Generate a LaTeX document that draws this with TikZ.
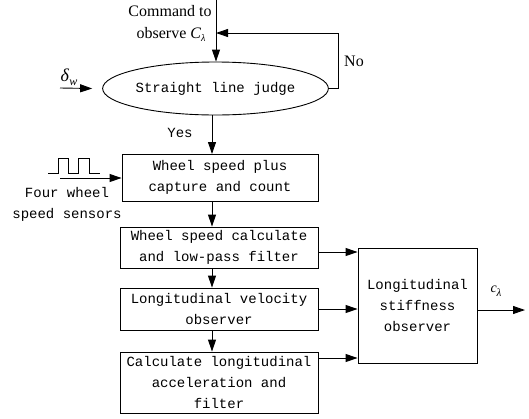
\documentclass[tikz,border=0pt]{standalone}
\usepackage{fontspec}
\setmainfont{Liberation Serif}
\newfontfamily\monof{Liberation Mono}
\usetikzlibrary{arrows.meta,shapes.geometric,calc}
\begin{document}
\begin{tikzpicture}[x=1pt,y=-1pt,
  line width=0.9pt,
  arr/.style={-{Triangle[length=12pt,width=8pt]}},
  boxs/.style={draw,rectangle,inner sep=0pt,align=center,font=\monof\fontsize{14}{21}\selectfont},
  mono/.style={font=\monof\fontsize{14}{21}\selectfont,inner sep=0pt,align=center},
  serif/.style={font=\fontsize{16}{20}\selectfont,inner sep=0pt}]
\useasboundingbox (0,0) rectangle (529,418);
\node[draw,ellipse,inner sep=0pt,minimum width=175pt,minimum height=53pt,mono] (ell) at (215.5,88.5) {Straight line judge};
\node[boxs,minimum width=196pt,minimum height=47pt] (b1) at (220,177.5) {Wheel speed plus\\capture and count};
\node[boxs,minimum width=198pt,minimum height=41pt] (b2) at (219,247.5) {Wheel speed calculate\\and low-pass filter};
\node[boxs,minimum width=198pt,minimum height=42pt] (b3) at (219,309) {Longitudinal velocity\\observer};
\node[boxs,minimum width=198pt,minimum height=61pt] (b4) at (219,382.5) {Calculate longitudinal\\acceleration and\\filter};
\node[boxs,minimum width=119pt,minimum height=115pt] (st) at (417.5,305.5) {Longitudinal\\stiffness\\observer};
% labels
\node[serif,anchor=east] (cmd1) at (212,11) {Command to};
\node[serif,anchor=east] (cmd2) at (206,34) {observe \textit{C}\raisebox{-3pt}{\fontsize{10}{12}\selectfont\textit{λ}}};
\node[serif] (no) at (354,61) {No};
\node[mono] (yes) at (180,133) {Yes};
\node[inner sep=0pt,font=\fontsize{18}{20}\selectfont] (dw) at (69,77) {\textit{δ}\raisebox{-4pt}{\fontsize{12}{12}\selectfont\textit{w}}};
\node[mono] (fw) at (67,204) {Four wheel\\speed sensors};
\node[inner sep=0pt,font=\fontsize{14}{16}\selectfont] (cl) at (496,291) {\textit{c}\raisebox{-4pt}{\fontsize{11}{12}\selectfont\textit{λ}}};
% coordinates
\coordinate (top) at (216,0);
\coordinate (fbx) at (338,33);
\coordinate (din) at (60,88);
\coordinate (pin) at (60,178);
\coordinate (out) at (525,310);
% top input
\draw[arr] (top) -- (top |- ell.north);
% feedback
\draw[arr] (ell.east) -| (fbx) -- (fbx -| top);
% delta input
\draw[arr] (din) -- ([xshift=-10pt]ell.west);
% main chain
\draw[arr] (212,115) -- (212,154);
\draw[arr] (b1.south -| 212,0) -- (b2.north -| 212,0);
\draw[arr] (b2.south -| 212,0) -- (b3.north -| 212,0);
\draw[arr] (b3.south -| 212,0) -- (b4.north -| 212,0);
% sensors
\draw[line width=0.8pt] (48,173) -- (58,173) -- (58,158) -- (68,158) -- (68,173) -- (78,173) -- (78,158) -- (89,158) -- (89,173) -- (100,173);
\draw[arr] (pin) -- (pin -| b1.west);
% to stiffness
\draw[arr] ([yshift=-4.5pt]b2.east) coordinate (e2) -- (e2 -| st.west);
\draw[arr] (b3.east) -- (b3.east -| st.west);
\draw[arr] ([yshift=24.5pt]b4.east) coordinate (e4) -- (e4 -| st.west);
\draw[arr] (st.east |- out) -- (out);
\end{tikzpicture}
\end{document}
